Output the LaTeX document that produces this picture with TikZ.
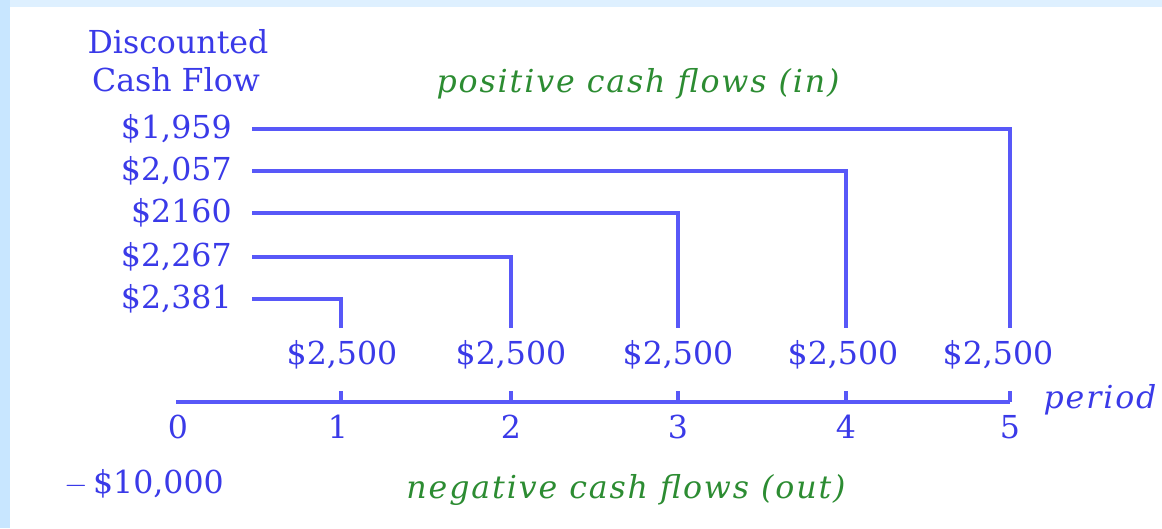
\documentclass[tikz,border=0pt]{standalone}
\usepackage{fontspec}
\setmainfont{DejaVu Serif}
\newfontfamily\tagfont{DejaVu Serif}[LetterSpace=6]
\usepackage{xcolor}
\usepackage{tikz}
\usetikzlibrary{calc,positioning}
\definecolor{cfline}{RGB}{88,88,248}
\definecolor{cftext}{RGB}{58,58,232}
\definecolor{cfgreen}{RGB}{44,140,50}
\definecolor{frameleft}{RGB}{200,230,255}
\definecolor{frametop}{RGB}{222,240,255}

\begin{document}
\begin{tikzpicture}[x=0.02cm,y=-0.02cm,
  every node/.style={font=\fontsize{18}{21}\selectfont,text=cftext},
  flow/.style={draw=cfline,line width=2.8pt},
  dcf/.style={anchor=east,inner xsep=0.4cm,inner ysep=0pt},
  cash/.style={inner ysep=0.25cm},
  tag/.style={font=\fontsize{18}{21}\tagfont\itshape,text=cfgreen}]
  \useasboundingbox (0,0) rectangle (1162,528);
  \fill[frameleft] (0,0) rectangle (10,528);
  \fill[frametop] (10,0) rectangle (1162,7);

  \node (hd1) at (178,42) {Discounted};
  \node (hd2) at (176,80) {Cash Flow};
  \node[tag] (pos) at (638,84) {positive cash flows (in)};

  \node[dcf] (d5) at (252,129) {\$1,959};
  \node[dcf] (d4) at (252,171) {\$2,057};
  \node[dcf] (d3) at (252,213) {\$2160};
  \node[dcf] (d2) at (252,257) {\$2,267};
  \node[dcf] (d1) at (252,299) {\$2,381};

  % time line
  \coordinate (t0) at (176,402);
  \foreach \i/\x in {1/341,2/511,3/678,4/846,5/1010}
    \coordinate (t\i) at (\x,402);
  \foreach \i/\x in {1/342,2/511,3/678,4/843,5/998}
    \node[cash] (c\i) at (\x,355) {\$2,500};

  \draw[flow] (t0) -- (t5);
  \foreach \i in {1,...,5}
    \draw[flow,line width=2.2pt] (t\i) -- ++(0,-11);
  \foreach \i/\x in {0/178,1/338,2/511,3/678,4/846,5/1010}
    \node (p\i) at (\x,427) {\i};
  \node[font=\fontsize{18}{21}\tagfont\itshape] (per) at (1100,400) {period};

  \foreach \i in {1,...,5}
    \draw[flow] (d\i.east) -| (t\i |- c\i.north);

  \node (out) at (144,484) {$-$\,\$10,000};
  \node[tag] (neg) at (626,490) {negative cash flows (out)};
\end{tikzpicture}
\end{document}
